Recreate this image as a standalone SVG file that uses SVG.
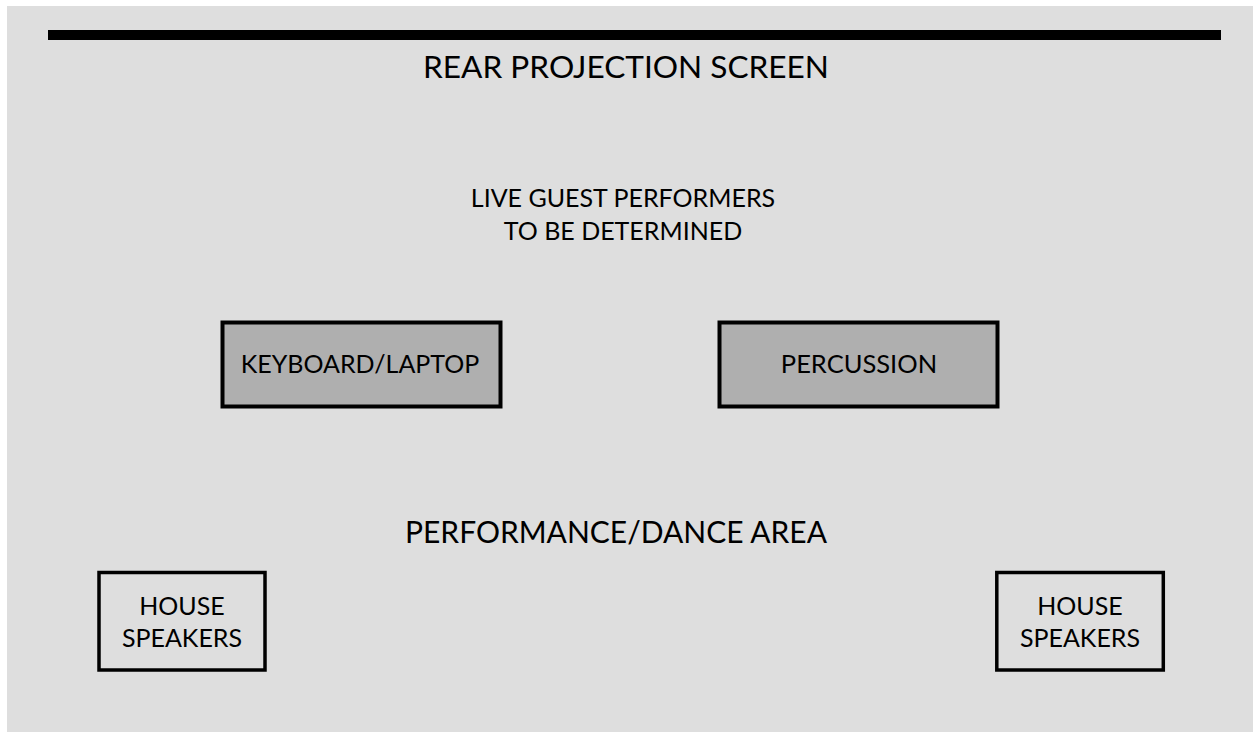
<svg xmlns="http://www.w3.org/2000/svg" width="1253" height="732" viewBox="0 0 1253 732">
<style>
text{font-family:Lato,"Noto Sans","Liberation Sans",sans-serif;fill:#000;text-anchor:middle}
.box{fill:#afafaf;stroke:#000;stroke-width:4}
.spk{fill:#dedede;stroke:#000;stroke-width:3.5}
</style>
<rect x="0" y="0" width="1253" height="732" fill="#fff"/>
<rect x="7" y="6" width="1246" height="726" fill="#dedede"/>
<g id="screen">
<rect x="48" y="30" width="1173" height="10" fill="#000"/>
<text x="626" y="78" font-size="31.6">REAR PROJECTION SCREEN</text>
</g>
<g id="guests">
<text x="623" y="207" font-size="25">LIVE GUEST PERFORMERS</text>
<text x="623" y="240" font-size="25">TO BE DETERMINED</text>
</g>
<g id="keyboard">
<rect class="box" x="222.5" y="322.5" width="278" height="84"/>
<text x="360" y="373" font-size="25">KEYBOARD/LAPTOP</text>
</g>
<g id="percussion">
<rect class="box" x="719.5" y="322.5" width="278" height="84"/>
<text x="859" y="373" font-size="25.5">PERCUSSION</text>
</g>
<g id="area">
<text x="616" y="543" font-size="30">PERFORMANCE/DANCE AREA</text>
</g>
<g id="speakers-left">
<rect class="spk" x="99" y="572.5" width="166" height="97.5"/>
<text x="182" y="615" font-size="25">HOUSE</text>
<text x="182" y="647" font-size="25">SPEAKERS</text>
</g>
<g id="speakers-right">
<rect class="spk" x="996.8" y="572.5" width="166.5" height="97.5"/>
<text x="1080" y="615" font-size="25">HOUSE</text>
<text x="1080" y="647" font-size="25">SPEAKERS</text>
</g>
<g id="connectors"></g>
</svg>
